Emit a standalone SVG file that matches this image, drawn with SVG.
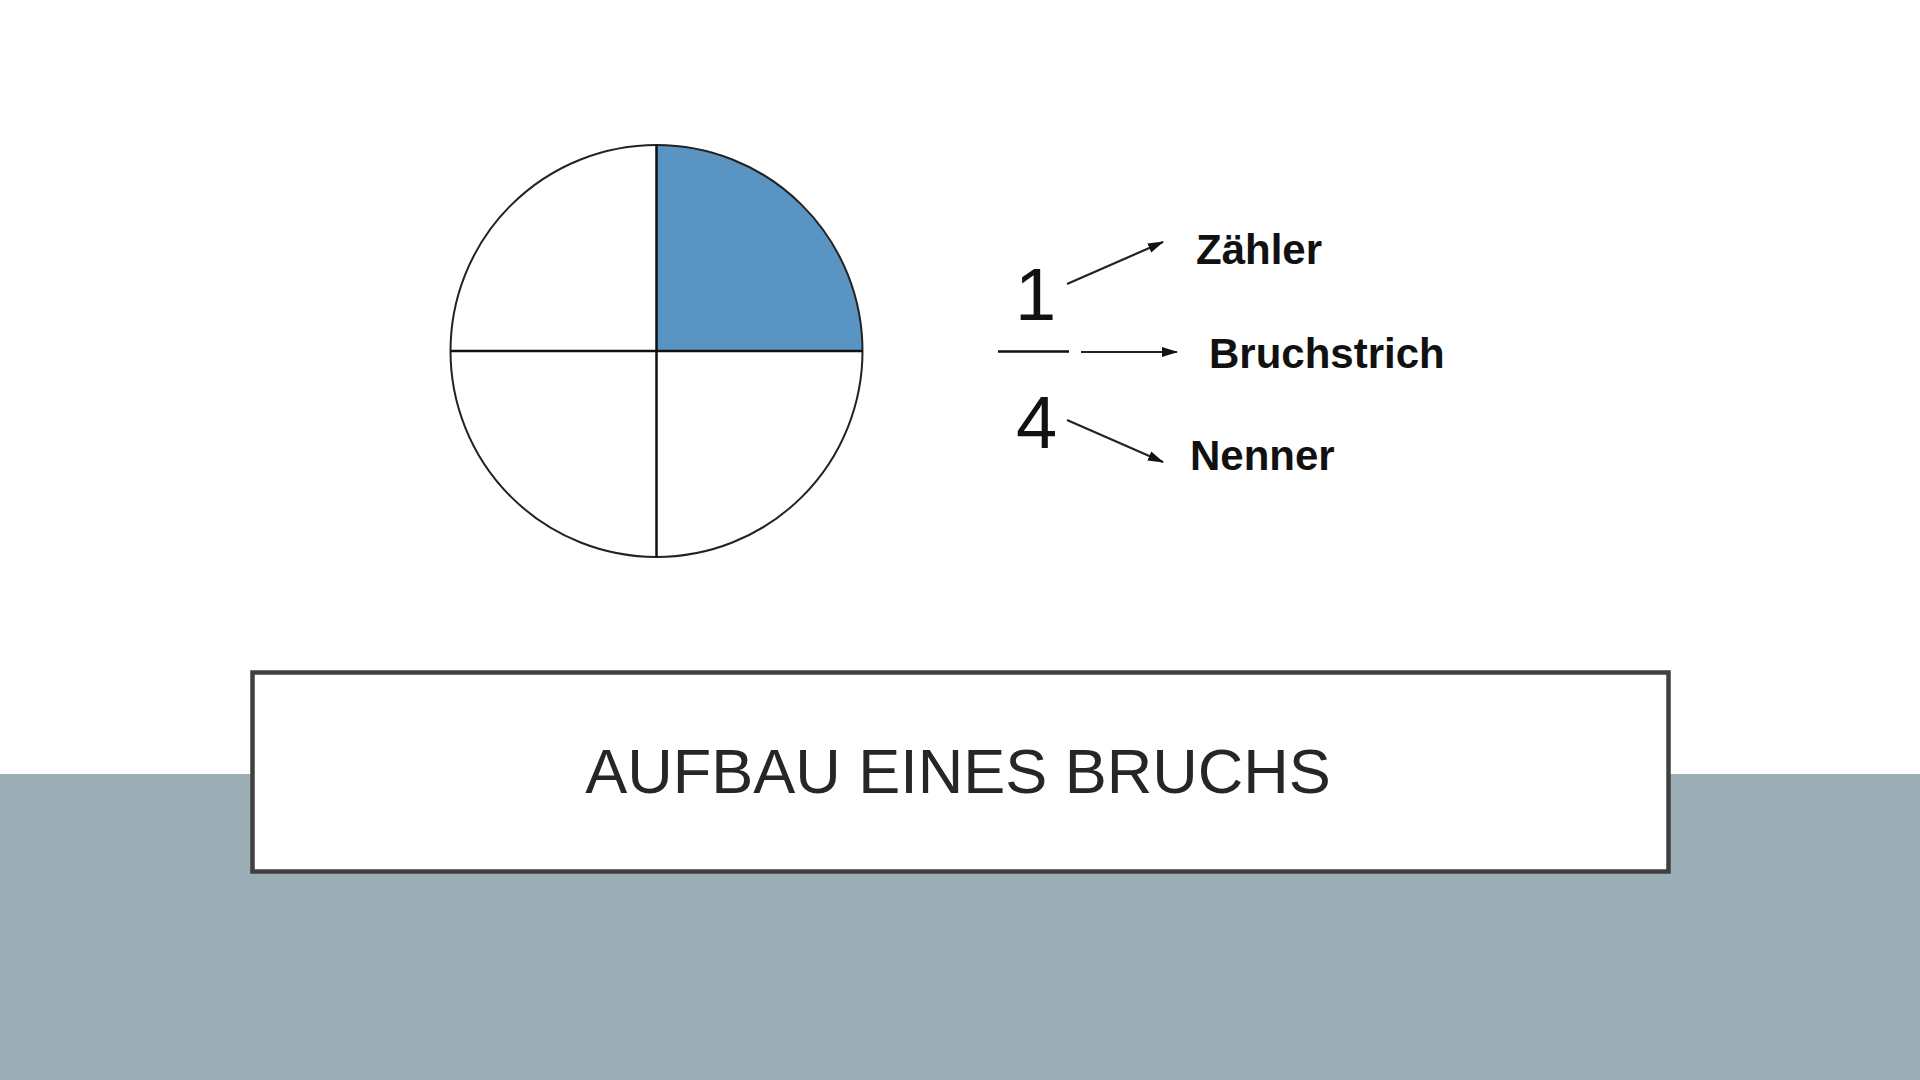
<svg xmlns="http://www.w3.org/2000/svg" width="1920" height="1080" viewBox="0 0 1920 1080">
<defs>
<marker id="ah" markerWidth="16" markerHeight="12" refX="15" refY="6" orient="auto" markerUnits="userSpaceOnUse">
<path d="M0,1 L16,6 L0,11 Z" fill="#111"/>
</marker>
<style>
.lbl{font-family:"Liberation Sans",Arial,sans-serif;font-weight:bold;font-size:42px;fill:#111}
.dig{font-family:"Liberation Sans",Arial,sans-serif;font-size:74px;fill:#111}
.ln{stroke:#111;stroke-width:2.5;fill:none}
.arr{stroke:#222;stroke-width:2.2;fill:none;marker-end:url(#ah)}
</style>
</defs>
<rect x="0" y="0" width="1920" height="1080" fill="#ffffff"/>
<rect x="0" y="774" width="1920" height="306" fill="#9dafb6"/>
<g id="circle">
<path d="M656.5,351 L656.5,145 A206,206 0 0 1 862.5,351 Z" fill="#5a94c2"/>
<circle cx="656.5" cy="351" r="206" fill="none" stroke="#222" stroke-width="2"/>
<line class="ln" x1="656.5" y1="145" x2="656.5" y2="557"/>
<line class="ln" x1="450.5" y1="351" x2="862.5" y2="351"/>
</g>
<g id="fraction">
<text class="dig" x="1015" y="320">1</text>
<line class="ln" x1="998" y1="351.5" x2="1069" y2="351.5"/>
<text class="dig" x="1016" y="448">4</text>
</g>
<g id="connectors">
<line class="arr" x1="1067" y1="284" x2="1163" y2="242"/>
<line class="arr" x1="1081" y1="352" x2="1177" y2="352"/>
<line class="arr" x1="1067" y1="420" x2="1163" y2="462"/>
</g>
<g id="label-zaehler"><text class="lbl" x="1196" y="264">Zähler</text></g>
<g id="label-bruchstrich"><text class="lbl" x="1209" y="368">Bruchstrich</text></g>
<g id="label-nenner"><text class="lbl" x="1190" y="470">Nenner</text></g>
<g id="title">
<rect x="252.5" y="672.5" width="1416" height="199" fill="#ffffff" stroke="#404040" stroke-width="4.5"/>
<text x="958" y="793" text-anchor="middle" font-family="'Liberation Sans',Arial,sans-serif" font-size="63" fill="#262626">AUFBAU EINES BRUCHS</text>
</g>
</svg>
